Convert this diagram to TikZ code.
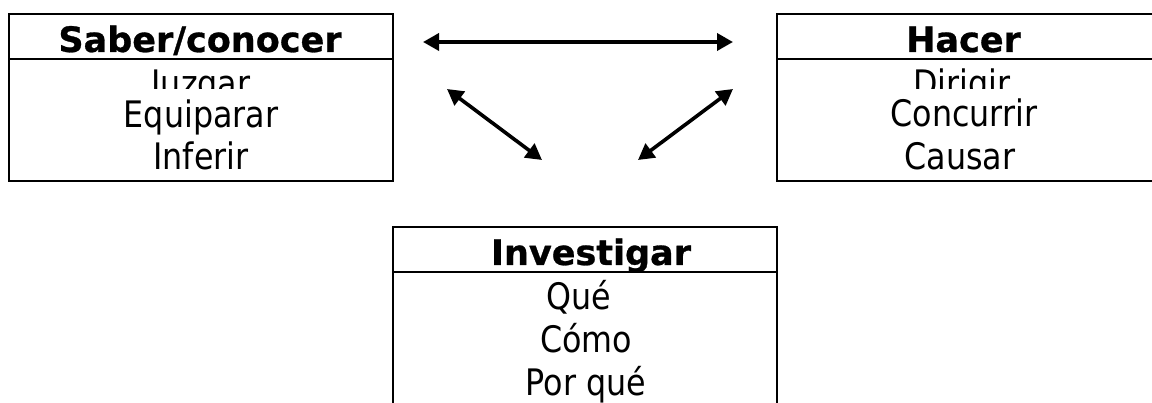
\documentclass[tikz,border=0pt]{standalone}
\usepackage{fontspec}
\setmainfont{DejaVu Sans}
\newfontfamily\bodyfont[FakeStretch=0.87]{DejaVu Sans}
\newfontfamily\headfont[BoldFeatures={FakeBold=0.8}]{DejaVu Sans}
\usetikzlibrary{arrows.meta}
\begin{document}
\begin{tikzpicture}[x=1pt,y=-1pt]
\tikzset{
 boxline/.style={line width=2.4pt},
 sepline/.style={line width=2pt},
 headtext/.style={anchor=base,inner sep=0pt,font=\fontsize{35}{35}\selectfont\headfont\bfseries},
 bodytext/.style={anchor=base,inner sep=0pt,font=\fontsize{36.5}{36.5}\selectfont\bodyfont},
 cliptext/.style={bodytext,text depth=0pt},
 dblarrow/.style={line width=3.6pt,{Triangle[length=16pt,width=17pt]}-{Triangle[length=16pt,width=17pt]}},
}
\useasboundingbox (0,0) rectangle (1152,403);
\clip (0,0) rectangle (1152,403);
\fill[white] (0,0) rectangle (1152,403);

% boxes
\draw[boxline] (9,14) rectangle (393,181);
\draw[sepline] (9,59) -- (393,59);
\draw[boxline] (777,14) rectangle (1175,181);
\draw[sepline] (777,59) -- (1175,59);
\draw[boxline] (393,227) rectangle (777,425);
\draw[sepline] (393,272) -- (777,272);

% headings
\node[headtext] (saber) at (200,52) {Saber/conocer};
\node[headtext] (hacer) at (963.5,52) {Hacer};
\node[headtext] (invest) at (591,265) {Investigar};

% left body
\begin{scope}
\clip (9,59) rectangle (393,89);
\node[cliptext] (juzgar) at (201,96.5) {Juzgar};
\end{scope}
\node[bodytext] (equiparar) at (201,127.7) {Equiparar};
\node[bodytext] (inferir) at (201,170) {Inferir};

% right body
\begin{scope}
\clip (777,59) rectangle (1152,89);
\node[cliptext] (dirigir) at (962,96.5) {Dirigir};
\end{scope}
\node[bodytext] (concurrir) at (964,127) {Concurrir};
\node[bodytext] (causar) at (960,170) {Causar};

% bottom body
\node[bodytext] (que) at (579,310) {Qué};
\node[bodytext] (como) at (586,353) {Cómo};
\node[bodytext] (porque) at (586,395.5) {Por qué};

% arrows
\coordinate (hL) at (423,42);
\coordinate (hR) at (733,42);
\coordinate (dL1) at (447,89);
\coordinate (dL2) at (542,160);
\coordinate (dR1) at (733,89);
\coordinate (dR2) at (638,160);
\draw[dblarrow] (hL) -- (hR);
\draw[dblarrow] (dL1) -- (dL2);
\draw[dblarrow] (dR1) -- (dR2);
\end{tikzpicture}
\end{document}
